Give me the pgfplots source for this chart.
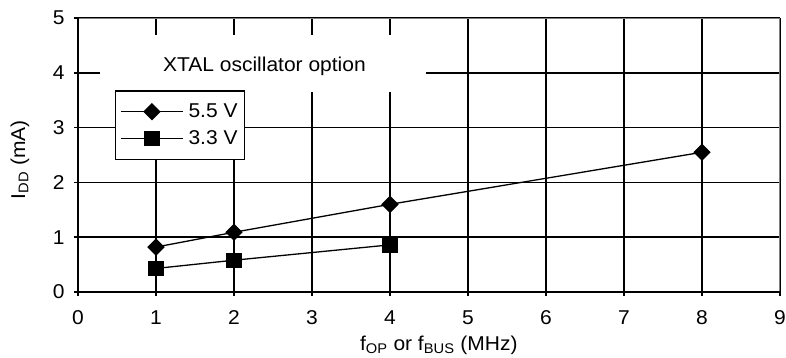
\documentclass[border=0pt]{standalone}
\usepackage{fontspec}
\setmainfont{Liberation Sans}[FakeStretch=1.05]
\usepackage{pgfplots}
\pgfplotsset{compat=1.18}
\begin{document}
\fontsize{20bp}{24bp}\selectfont
\begin{tikzpicture}
\path[use as bounding box] (-78bp,-66bp) rectangle (708bp,292bp);
\begin{axis}[
  scale only axis, width=702bp, height=274bp,
  xmin=0, xmax=9, ymin=0, ymax=5,
  xtick={0,...,9}, ytick={0,...,5},
  xtick pos=bottom, ytick pos=left,
  tick align=outside, major tick length=4bp,
  tick style={black, line width=1.5bp},
  grid=major, major grid style={black, line width=1.5bp},
  axis line style={draw=none},
  font=\fontsize{20bp}{24bp}\selectfont,
  /pgf/number format/assume math mode=true,
  xticklabel style={yshift=-7.5bp},
  yticklabel style={xshift=-2.5bp},
  every axis x label/.style={at={(axis description cs:0.514,-0.193)}, anchor=center},
  every axis y label/.style={at={(axis description cs:-0.0826,0.482)}, rotate=90, anchor=center},
  xlabel={f\textsubscript{OP} or f\textsubscript{BUS} (MHz)},
  ylabel={I\textsubscript{DD} (mA)},
  legend style={at={(rel axis cs:0.052,0.737)}, anchor=north west, draw=black, line width=1.5bp, fill=white,
    font=\fontsize{20bp}{24bp}\selectfont, row sep=6bp, inner xsep=5bp, inner ysep=10.5bp,
    /tikz/every odd column/.append style={column sep=3bp}},
  legend cell align=left,
  legend image code/.code={\draw[mark repeat=2,mark phase=2,line width=1.3bp] plot coordinates {(0bp,0bp)(31bp,0bp)(62bp,0bp)};},
]
\fill[white] (axis cs:0.28,3.65) rectangle (axis cs:4.46,4.69);
\node[anchor=base] at (axis cs:2.39,4.02) {XTAL oscillator option};
\addplot[black, line width=1.3bp, mark=square*, mark size=5.5bp, mark options={rotate=45, solid}] coordinates {(1,0.82) (2,1.09) (4,1.60) (8,2.55)};
\addlegendentry{5.5 V}
\addplot[black, line width=1.3bp, mark=square*, mark size=7bp, mark options={solid}] coordinates {(1,0.43) (2,0.58) (4,0.86)};
\addlegendentry{3.3 V}
\draw[black!50, line width=1.5bp] (rel axis cs:0,1) -- (rel axis cs:1,1) -- (rel axis cs:1,0);
\draw[black, line width=1.5bp] (rel axis cs:0,1) -- (rel axis cs:0,0) -- (rel axis cs:1,0);
\end{axis}
\end{tikzpicture}
\end{document}
